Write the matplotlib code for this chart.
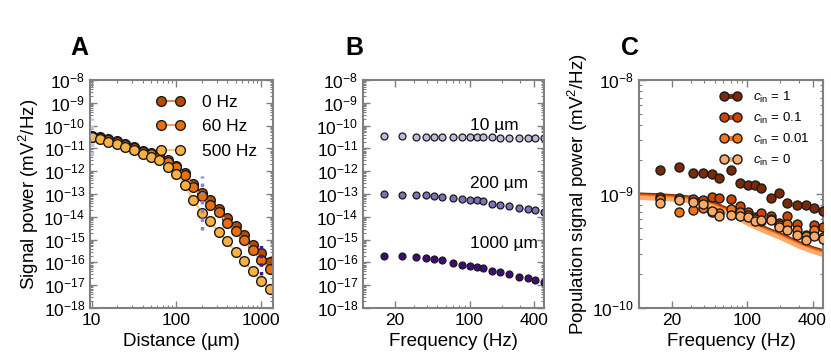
import matplotlib
matplotlib.use('Agg')
import matplotlib.pyplot as plt
from matplotlib.ticker import LogLocator, FixedLocator, FixedFormatter, NullFormatter

plt.rcParams['font.family'] = ['Liberation Sans', 'DejaVu Sans']
plt.rcParams['mathtext.fontset'] = 'custom'
plt.rcParams['mathtext.rm'] = 'Liberation Sans'
plt.rcParams['mathtext.it'] = 'Liberation Sans:italic'
plt.rcParams['font.size'] = 11

# panel A: signal power vs distance
distance = [10, 12.6, 15.8, 20, 25, 32, 40, 50, 63, 79, 100, 126, 158, 200,
            251, 316, 398, 501, 631, 794, 1000, 1259]
power_0hz = [3.5e-11, 3.1e-11, 2.5e-11, 2.2e-11, 1.58e-11, 1.13e-11, 8.0e-12, 6.2e-12,
             4.7e-12, 3.1e-12, 1.7e-12, 8.2e-13, 2.8e-13, 1.1e-13, 5.2e-14, 2.2e-14,
             8.8e-15, 3.8e-15, 1.6e-15, 5.9e-16, 2.6e-16, 1.0e-16]
power_60hz = [3.3e-11, 2.8e-11, 2.35e-11, 2.0e-11, 1.42e-11, 1.02e-11, 7.3e-12, 5.5e-12,
              4.1e-12, 2.65e-12, 1.5e-12, 6.5e-13, 2.1e-13, 7.8e-14, 3.4e-14, 1.55e-14,
              5.6e-15, 2.3e-15, 9.2e-16, 3.6e-16, 1.3e-16, 5.1e-17]
power_500hz = [3.1e-11, 2.5e-11, 2.0e-11, 1.58e-11, 1.2e-11, 8.6e-12, 5.5e-12, 4.1e-12,
               3.1e-12, 1.6e-12, 7.6e-13, 2.5e-13, 5.5e-14, 1.5e-14, 6.3e-15, 2.1e-15,
               8.3e-16, 3.0e-16, 1.1e-16, 4.4e-17, 1.6e-17, 6.8e-18]
range_dist = [10, 200, 1000]
range_low = [5.2e-12, 2.7e-15, 2.8e-17]
range_high = [2.1e-10, 5.9e-13, 7.1e-16]

# panel B: signal power vs frequency at three distances
freqs = [15.6, 23.4, 31.3, 39.1, 46.9, 54.7, 70.3, 85.9, 101.6, 117.2, 132.8,
         164.1, 195.3, 234.4, 289.1, 351.6, 414.1, 500]
power_10um = [3.4e-11, 3.35e-11, 3.3e-11, 3.3e-11, 3.25e-11, 3.25e-11, 3.2e-11, 3.2e-11,
              3.15e-11, 3.1e-11, 3.1e-11, 3.05e-11, 3.0e-11, 2.95e-11, 2.9e-11,
              2.85e-11, 2.8e-11, 2.75e-11]
power_200um = [1.0e-13, 9.3e-14, 9.0e-14, 8.7e-14, 7.9e-14, 7.4e-14, 6.4e-14, 6.0e-14,
               5.6e-14, 5.2e-14, 4.8e-14, 3.8e-14, 3.3e-14, 2.9e-14, 2.4e-14, 2.2e-14,
               1.9e-14, 1.66e-14]
power_1000um = [1.97e-16, 1.83e-16, 1.66e-16, 1.55e-16, 1.41e-16, 1.28e-16, 9.4e-17,
                7.9e-17, 7.2e-17, 6.3e-17, 5.5e-17, 4.3e-17, 3.7e-17, 3.1e-17, 2.4e-17,
                2.1e-17, 1.74e-17, 1.44e-17]

# panel C: population signal power
pop_c1 = [1.63e-9, 1.74e-9, 1.54e-9, 1.54e-9, 1.50e-9, 1.38e-9, 1.63e-9, 1.25e-9, 1.20e-9,
          1.20e-9, 1.13e-9, 9.15e-10, 1.02e-9, 8.34e-10, 8.05e-10, 8.05e-10, 7.54e-10, 7.04e-10]
pop_c01 = [9.35e-10, 9.2e-10, 9.0e-10, 8.85e-10, 9.35e-10, 9.2e-10, 9.0e-10, 7.9e-10, 6.9e-10,
           6.25e-10, 6.8e-10, 6.45e-10, 5.6e-10, 6.45e-10, 5.45e-10, 4.4e-10, 5.3e-10, 5.1e-10]
pop_c001 = [9.0e-10, 6.9e-10, 7.2e-10, 7.6e-10, 6.9e-10, 6.8e-10, 7.4e-10, 6.9e-10, 6.6e-10,
            6.0e-10, 5.75e-10, 6.0e-10, 5.4e-10, 5.45e-10, 4.8e-10, 4.3e-10, 4.8e-10, 4.2e-10]
pop_c0 = [8.3e-10, 8.8e-10, 8.45e-10, 8.2e-10, 7.15e-10, 6.45e-10, 6.6e-10, 6.45e-10, 6.25e-10,
          5.75e-10, 5.9e-10, 5.9e-10, 5.1e-10, 4.8e-10, 4.4e-10, 3.95e-10, 4.3e-10, 4.0e-10]
theory_freq = [10, 15, 20, 30, 40, 50, 70, 100, 150, 200, 300, 400, 500]
theory_c1 = [9.9e-10, 9.75e-10, 9.6e-10, 9.3e-10, 8.8e-10, 8.2e-10, 7.15e-10, 5.9e-10,
             4.95e-10, 4.45e-10, 3.72e-10, 3.35e-10, 3.15e-10]
theory_c01 = [9.7e-10, 9.55e-10, 9.4e-10, 9.1e-10, 8.6e-10, 8.0e-10, 7.0e-10, 5.78e-10,
              4.85e-10, 4.35e-10, 3.64e-10, 3.28e-10, 3.08e-10]
theory_c001 = [9.5e-10, 9.35e-10, 9.2e-10, 8.9e-10, 8.4e-10, 7.8e-10, 6.85e-10, 5.65e-10,
               4.75e-10, 4.25e-10, 3.56e-10, 3.21e-10, 3.01e-10]
theory_c0 = [9.25e-10, 9.1e-10, 8.95e-10, 8.65e-10, 8.2e-10, 7.6e-10, 6.65e-10, 5.5e-10,
             4.62e-10, 4.14e-10, 3.46e-10, 3.12e-10, 2.93e-10]

spine_col = '#808080'


def style_axes(ax):
    for s in ax.spines.values():
        s.set_color(spine_col)
        s.set_linewidth(1.5)
    ax.tick_params(which='both', direction='in', top=True, right=True, color=spine_col)
    ax.tick_params(which='major', length=5, width=1, labelsize=12.5)
    ax.tick_params(which='minor', length=2.5, width=0.8)


def log_y(ax):
    ax.yaxis.set_major_locator(LogLocator(base=10, numticks=20))
    ax.yaxis.set_minor_locator(LogLocator(base=10, subs=range(2, 10), numticks=20))
    ax.yaxis.set_minor_formatter(NullFormatter())


def freq_x(ax):
    ax.xaxis.set_major_locator(FixedLocator([20, 100, 400]))
    ax.xaxis.set_major_formatter(FixedFormatter(['20', '100', '400']))
    ax.xaxis.set_minor_locator(LogLocator(base=10, subs=range(1, 10), numticks=20))
    ax.xaxis.set_minor_formatter(NullFormatter())


fig = plt.figure(figsize=(8.31, 3.6), dpi=100)
axA = fig.add_axes([0.1083, 0.1444, 0.2202, 0.6333])
axB = fig.add_axes([0.4368, 0.1444, 0.2178, 0.6333])
axC = fig.add_axes([0.7690, 0.1444, 0.2214, 0.6333])

# ---- A
ec = '#1a1a1a'
axA.plot(distance, power_0hz, '-o', color='#d98b5e', mfc='#b34a00', mec=ec, ms=7, mew=1, lw=1.5, label='0 Hz', zorder=2)
axA.plot(distance, power_60hz, '-o', color='#f5a25c', mfc='#ea6f10', mec=ec, ms=7, mew=1, lw=1.5, label='60 Hz', zorder=2)
axA.plot(distance, power_500hz, '-o', color='#fbc77a', mfc='#fbb043', mec=ec, ms=7, mew=1, lw=1.5, label='500 Hz', zorder=2)
for d, lo, hi, c in zip(range_dist, range_low, range_high, ['#c4c2e4', '#8c80c8', '#4b1187']):
    axA.vlines(d, lo, hi, colors=c, linestyles=(0, (1, 1.5)), lw=2.5, zorder=3)
axA.set_xscale('log')
axA.set_yscale('log')
axA.set_xlim(9.6, 1380)
axA.set_ylim(1e-18, 1e-8)
log_y(axA)
axA.xaxis.set_major_locator(FixedLocator([10, 100, 1000]))
axA.xaxis.set_major_formatter(FixedFormatter(['10', '100', '1000']))
axA.xaxis.set_minor_formatter(NullFormatter())
axA.set_xlabel('Distance (µm)', fontsize=13.5)
axA.set_ylabel('Signal power (mV$^2$/Hz)', fontsize=13.5, labelpad=2)
style_axes(axA)
axA.legend(loc='upper right', bbox_to_anchor=(1.0, 1.005), frameon=False, numpoints=2,
           handlelength=1.7, labelspacing=0.55, handletextpad=1.0, fontsize=12.5)

# ---- B
axB.plot(freqs, power_10um, 'o', mfc='#bdbbdc', mec=ec, ms=5, mew=0.9)
axB.plot(freqs, power_200um, 'o', mfc='#7d72b8', mec=ec, ms=5, mew=0.9)
axB.plot(freqs, power_1000um, 'o', mfc='#3f0a7a', mec=ec, ms=5, mew=0.9)
axB.set_xscale('log')
axB.set_yscale('log')
axB.set_xlim(10, 500)
axB.set_ylim(1e-18, 1e-8)
log_y(axB)
freq_x(axB)
axB.text(100, 1e-10, '10 µm', ha='left', va='center', fontsize=12.5)
axB.text(100, 2.8e-13, '200 µm', ha='left', va='center', fontsize=12.5)
axB.text(100, 7e-16, '1000 µm', ha='left', va='center', fontsize=12.5)
axB.set_xlabel('Frequency (Hz)', fontsize=13.5)
style_axes(axB)

# ---- C
c_cols = ['#7a2a05', '#c84606', '#f2741a', '#fcaa6a']
c_labels = ['$c_{\\mathrm{in}}$ = 1', '$c_{\\mathrm{in}}$ = 0.1',
            '$c_{\\mathrm{in}}$ = 0.01', '$c_{\\mathrm{in}}$ = 0']
for th, c in zip([theory_c1, theory_c01, theory_c001, theory_c0], c_cols):
    axC.plot(theory_freq, th, '-', color=c, lw=3, solid_capstyle='butt', zorder=2)
handles = []
for pts, c, lab in zip([pop_c1, pop_c01, pop_c001, pop_c0], c_cols, c_labels):
    axC.plot(freqs, pts, 'o', mfc=c, mec=ec, ms=6.5, mew=1, zorder=3)
    h, = axC.plot([], [], '-o', color=c, mfc=c, mec=ec, ms=6.5, mew=1, lw=3.5, label=lab)
    handles.append(h)
axC.set_xscale('log')
axC.set_yscale('log')
axC.set_xlim(10, 500)
axC.set_ylim(1e-10, 1e-8)
axC.yaxis.set_minor_formatter(NullFormatter())
freq_x(axC)
axC.set_xlabel('Frequency (Hz)', fontsize=13.5)
axC.set_ylabel('Population signal power (mV$^2$/Hz)', fontsize=13.5, labelpad=2)
style_axes(axC)
axC.legend(handles=handles, loc='upper right', bbox_to_anchor=(0.99, 1.01), frameon=False,
           numpoints=2, handlelength=1.6, labelspacing=0.45, handletextpad=0.9, fontsize=9.5)

for lab, x in [('A', 0.096), ('B', 0.427), ('C', 0.758)]:
    fig.text(x, 0.868, lab, fontsize=18, fontweight='bold', ha='center', va='center')

fig.savefig('out.png', dpi=100)
